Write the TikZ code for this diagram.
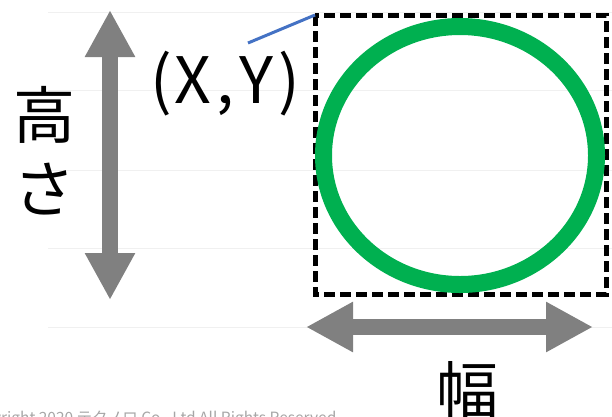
\documentclass[tikz,border=0pt]{standalone}
\usepackage{fontspec}
\setmainfont{Noto Sans CJK JP}
\usetikzlibrary{arrows.meta,positioning}

\definecolor{ringgreen}{HTML}{00B050}
\definecolor{leadblue}{HTML}{4472C4}
\definecolor{arrowgray}{HTML}{808080}
\definecolor{gridgray}{HTML}{F0F0F0}

% half-width cell, like a fixed-pitch gothic face
\newcommand{\hw}[1]{\makebox[0.5em]{#1}}

\begin{document}
\begin{tikzpicture}[
  x=1pt, y=-1pt,
  every node/.style={inner sep=0pt},
  %% styles
  gridline/.style={draw=gridgray, line width=1pt},
  dimarrow/.style={draw=arrowgray, line width=16pt,
    {Triangle[width=47pt,length=47pt]}-{Triangle[width=47pt,length=47pt]}},
  frame/.style={draw=black, line width=5pt, dash pattern=on 11pt off 5pt},
  ring/.style={draw=ringgreen, line width=17pt},
  leader/.style={draw=leadblue, line width=3pt},
  biglabel/.style={font=\fontsize{62}{74}\selectfont, text=black, align=center},
  note/.style={font=\fontsize{15.5}{18}\selectfont, text=black!35, anchor=base west}
]
  \useasboundingbox (0,0) rectangle (612,416);

  % faint ruled lines
  \foreach \yy in {12,90,170,248,327}
    \draw[gridline] (48,\yy) -- (612,\yy);

  % bounding box and circle
  \coordinate (tl) at (315,15);
  \coordinate (br) at (606,294);
  \draw[frame] (tl) rectangle (br);
  \node[draw=none, minimum size=0pt] (centre) at (460,155.5) {};
  \draw[ring] (centre) ellipse [x radius=136.5, y radius=129];

  % dimension arrows
  \coordinate (htop) at (110,10);
  \coordinate (hbot) at (110,300);
  \draw[dimarrow] (htop) -- (hbot);
  \coordinate (wleft) at (306,327);
  \coordinate (wright) at (593,327);
  \draw[dimarrow] (wleft) -- (wright);

  % labels
  \node[biglabel] (height) at (44,151) {高\\さ};
  \node[biglabel] (width) at (467,390) {幅};
  \node[biglabel, font=\fontsize{64}{72}\selectfont] (xy) at (225,84)
    {\hw{(}\hw{X}\hw{,}\hw{Y}\hw{)}};
  \draw[leader] (248,43) -- (tl);

  % footer
  \node[note] (copy) at (-36,423) {Copyright 2020 テクノロ Co., Ltd All Rights Reserved};
\end{tikzpicture}
\end{document}
